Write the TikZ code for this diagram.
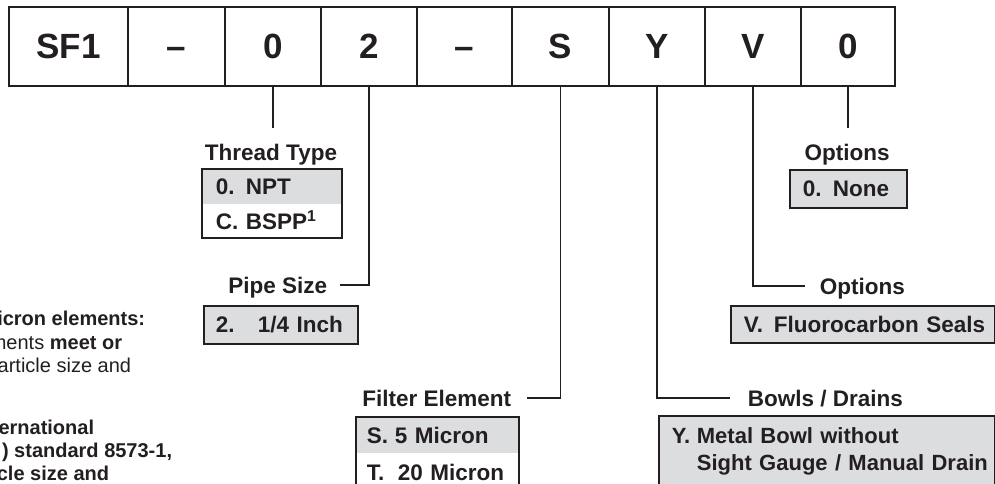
\documentclass[tikz,border=0pt]{standalone}
\usepackage{fontspec}
\setmainfont{Liberation Sans}
\definecolor{ink}{HTML}{231F20}
\definecolor{boxgray}{HTML}{DCDDDF}
\tikzset{
  cell/.style={draw, fill=white, rectangle, minimum height=79pt, inner sep=0pt,
    font=\fontsize{35}{40}\bfseries\selectfont, text height=25pt, text depth=0pt},
  lbl/.style={font=\fontsize{22.5}{27}\bfseries\selectfont, inner sep=0pt,
    text height=16pt, text depth=0pt},
  rowbox/.style={rectangle, anchor=north west, inner sep=0pt, align=left,
    font=\fontsize{22.5}{27}\bfseries\selectfont, text height=16pt, text depth=0pt},
  para/.style={font=\fontsize{20}{23.5}\selectfont, inner sep=0pt, anchor=base east},
  conn/.style={draw, line width=1.8pt}
}
\begin{document}
\begin{tikzpicture}[x=1pt, y=-1pt, line width=1.8pt, color=ink]
\useasboundingbox (0,0) rectangle (995,484);
\clip (0,0) rectangle (995,484);

% top code bar
\node[cell, minimum width=119pt] (c1) at (68.5,46.5) {SF1};
\node[cell, minimum width=97pt] (c2) at (176.5,46.5) {–};
\node[cell, minimum width=96pt] (c3) at (273,46.5) {0};
\node[cell, minimum width=96pt] (c4) at (369,46.5) {2};
\node[cell, minimum width=95pt] (c5) at (464.5,46.5) {–};
\node[cell, minimum width=97pt] (c6) at (560.5,46.5) {S};
\node[cell, minimum width=96pt] (c7) at (657,46.5) {Y};
\node[cell, minimum width=96pt] (c8) at (753,46.5) {V};
\node[cell, minimum width=94pt] (c9) at (848,46.5) {0};

% Thread type
\node[lbl, inner ysep=15pt] (tt) at (271,152) {Thread Type};
\node[rowbox, fill=boxgray, text width=138pt, minimum height=34pt] (tt1) at (202,169)
  {\hspace*{13pt}\makebox[30pt][l]{0.}NPT};
\node[rowbox, fill=white, text width=138pt, minimum height=31pt] (tt2) at (tt1.south west)
  {\hspace*{13pt}\makebox[30pt][l]{C.}BSPP\textsuperscript{1}};
\draw (tt1.north west) rectangle (tt2.south east);

% Pipe size
\node[lbl, inner xsep=12pt, anchor=east] (ps) at (340,285) {Pipe Size};
\node[rowbox, draw, fill=boxgray, text width=154pt, minimum height=38pt] (psb) at (203,305)
  {\hspace*{12pt}\makebox[42pt][l]{2.}1/4 Inch};

% Filter element
\node[lbl, inner xsep=15pt, anchor=east] (fe) at (527,398) {Filter Element};
\node[rowbox, fill=boxgray, text width=161pt, minimum height=35pt] (fe1) at (356,417)
  {\hspace*{10pt}\makebox[28pt][l]{S.}5 Micron};
\node[rowbox, fill=white, text width=161pt, minimum height=35pt] (fe2) at (fe1.south west)
  {\hspace*{10pt}\makebox[31pt][l]{T.}20 Micron};
\draw (fe1.north west) rectangle (fe2.south east);

% Bowls / Drains
\node[lbl, inner xsep=17pt, anchor=west] (bd) at (730,398) {Bowls / Drains};
\node[draw, fill=boxgray, rectangle, anchor=north west, inner xsep=0pt, inner ysep=11.6pt,
  text width=336pt, align=left, font=\fontsize{22}{27}\bfseries\selectfont] (bdb) at (658,415)
  {\hspace*{13pt}\makebox[25pt][l]{Y.}Metal Bowl without\\\hspace*{38pt}Sight Gauge / Manual Drain};

% Options (V)
\node[lbl, inner xsep=14pt, anchor=west] (ov) at (805,286) {Options};
\node[rowbox, draw, fill=boxgray, text width=264pt, minimum height=37pt] (ovb) at (730,305)
  {\hspace*{13pt}\makebox[30pt][l]{V.}Fluorocarbon Seals};

% Options (0)
\node[lbl, inner ysep=15pt] (oo) at (847,152) {Options};
\node[rowbox, draw, fill=boxgray, text width=117pt, minimum height=38pt] (oob) at (789,169)
  {\hspace*{13pt}\makebox[30pt][l]{0.}None};

% connectors
\draw[conn] (c3.south) -- (c3.south |- tt.north);
\draw[conn] (c4.south) |- (ps.east);
\draw[conn] (c6.south) |- (fe.east);
\draw[conn] (c7.south) |- (bd.west);
\draw[conn] (c8.south) |- (ov.west);
\draw[conn] (c9.south) -- (c9.south |- oo.north);

% cut-off note at left
\node[para] (p1) at (146,325) {\bfseries icron elements:};
\node[para] (p2) at (123,349) {ments \textbf{meet or}};
\node[para] (p3) at (132,372) {article size and};
\node[para] (p4) at (95,434) {\bfseries ernational};
\node[para] (p5) at (173,457) {\bfseries ) standard 8573-1,};
\node[para] (p6) at (110,480) {\bfseries cle size and};
\end{tikzpicture}
\end{document}
